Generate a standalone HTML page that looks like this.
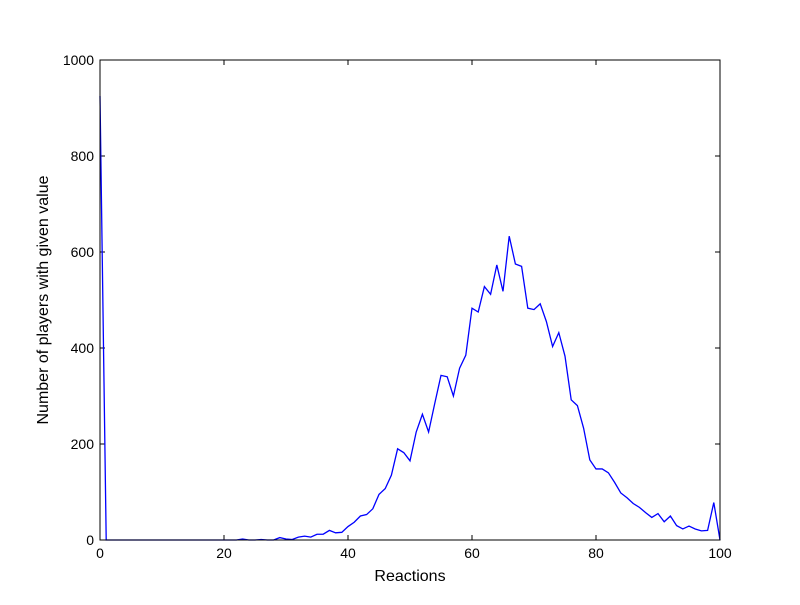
<!DOCTYPE html>
<html><head><meta charset="utf-8"><style>
body{margin:0;background:#fff;}
svg text{font-family:"Liberation Sans",sans-serif;font-size:14px;fill:#000;}
svg text.title{font-size:16px;}
</style></head><body>
<svg width="800" height="600">
<rect x="0" y="0" width="800" height="600" fill="#fff"/>
<g id="ticks"></g>
<path id="series" fill="none" stroke="#0000ff" stroke-width="1.3"/>
<rect x="100" y="60" width="620" height="480" fill="none" stroke="#000" stroke-width="1"/>
<text class="title" x="410" y="581" text-anchor="middle">Reactions</text>
<text class="title" transform="translate(48,300) rotate(-90)" text-anchor="middle">Number of players with given value</text>
</svg>
<script>
const yValues=[925,0,0,0,0,0,0,0,0,0,0,0,0,0,0,0,0,0,0,0,0,0,0,2,0,0,1,0,0,5,2,1,6,8,6,12,12,20,15,16,28,37,50,53,65,95,107,135,190,182,165,225,262,225,285,343,340,300,358,385,483,475,528,512,573,518,633,575,570,483,480,492,455,403,432,383,292,280,233,167,148,148,140,120,98,88,76,68,57,47,55,38,50,30,23,29,23,19,20,78,0];
const xTicks=[0,20,40,60,80,100];
const yTicks=[0,200,400,600,800,1000];
const X=v=>100+v*6.2, Y=v=>540-v*0.48;
const ns="http://www.w3.org/2000/svg";
let d="";yValues.forEach((v,i)=>{d+=(i?"L":"M")+X(i)+","+Y(v);});
document.getElementById("series").setAttribute("d",d);
const g=document.getElementById("ticks");
function mk(t,a){const e=document.createElementNS(ns,t);for(const k in a)e.setAttribute(k,a[k]);g.appendChild(e);return e;}
xTicks.forEach(v=>{
 const l1=mk("line",{x1:X(v),x2:X(v),y1:540,y2:535,stroke:"#000"});
 
 
 mk("line",{x1:X(v),x2:X(v),y1:60,y2:65,stroke:"#000"});
 const t=mk("text",{x:X(v),y:558,"text-anchor":"middle"});t.textContent=v;
 
 
});
yTicks.forEach(v=>{
 const l1=mk("line",{x1:100,x2:105,y1:Y(v),y2:Y(v),stroke:"#000"});
 
 
 mk("line",{x1:715,x2:720,y1:Y(v),y2:Y(v),stroke:"#000"});
 const t=mk("text",{x:94,y:Y(v)+5,"text-anchor":"end"});t.textContent=v;
 
 
});
</script>
</body></html>
